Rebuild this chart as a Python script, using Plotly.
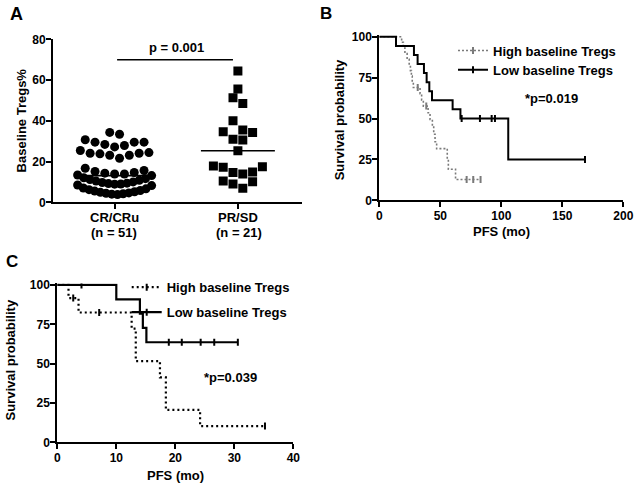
import numpy as np
import plotly.graph_objects as go

FONT = "Liberation Sans, Arial, sans-serif"
W, H = 638, 488

# ---------------- data ----------------
categories = ["CR/CRu", "PR/SD"]
n_labels = ["(n = 51)", "(n = 21)"]
cr_values = [34.3, 33.4,
             30.7, 29.5, 28.4, 27.2, 27.9, 29.5, 29.5,
             25.4, 24.1, 23.8, 23.1, 21.6, 23.1, 24.1, 24.4,
             16.7, 15.1, 14.3, 13.9, 13.9, 14.6, 15.6,
             13.4, 13.1, 12.0, 11.6, 11.2, 10.8, 10.4, 10.0, 9.7, 9.4, 9.2, 9.0, 8.9,
             8.5, 8.2, 7.0, 6.6, 6.2, 5.8, 5.5, 5.2, 4.9, 4.6, 4.4, 4.2, 4.0, 3.8]
pr_values = [64.4, 55.6, 51.3, 48.5, 40.0, 34.6, 35.5, 34.2, 30.9, 30.6, 25.3,
             17.8, 17.2, 14.6, 13.9, 14.9, 17.5, 10.1, 6.9, 9.0, 10.5]
p_text_a = "p = 0.001"

# Panel B (PFS, months)
b_high_times = [18.3, 19.7, 21.0, 22.8, 24.5, 25.5, 26.3, 27.0, 27.9, 33.4, 34.7, 36.1,
                40.0, 41.6, 43.5, 44.6, 45.7, 47.0, 55.7, 56.6, 62.5]
b_high_surv = [96.6, 93.1, 89.7, 86.2, 82.8, 79.3, 75.9, 72.4, 69.0, 65.2, 61.4, 57.6,
               53.5, 49.4, 45.3, 40.4, 35.8, 31.6, 25.3, 19.0, 12.7]
b_high_censor = [31.5, 38.5, 71.6, 77.0, 83.0]
b_low_times = [13.7, 28.4, 31.4, 36.6, 38.8, 41.0, 43.2, 60.1, 66.5, 105.7]
b_low_surv = [94.4, 88.9, 83.3, 77.8, 72.2, 66.7, 61.1, 55.6, 50.0, 25.0]
b_low_censor = [67.5, 82.5, 92.1, 94.8, 168.6]
p_text_b = "*p=0.019"

# Panel C
c_high_times = [1.9, 3.6, 12.6, 13.3, 17.4, 18.4, 24.2]
c_high_surv = [91.7, 82.5, 72.2, 51.6, 41.3, 20.6, 10.3]
c_high_censor = [2.7, 7.1, 35.2]
c_low_times = [10.0, 14.0, 14.5, 15.1]
c_low_surv = [90.9, 81.8, 72.7, 63.6]
c_low_censor = [4.1, 18.9, 21.1, 24.3, 26.6, 30.6]
p_text_c = "*p=0.039"

series_names = ["High baseline Tregs", "Low baseline Tregs"]

# ---------------- layout geometry (pixels) ----------------
def px_x(p):
    return p / W

def px_y(p):
    return 1 - p / H

A_X = [53, 302]
A_Y = [39.3, 202.3]
A_RANGE = [-0.5, 1.52]
B_X = [379.3, 623.3]
B_Y = [35.1, 200.3]
C_X = [57.3, 293.3]
C_Y = [283.4, 442.3]

a_px_per_unit = (A_X[1] - A_X[0]) / (A_RANGE[1] - A_RANGE[0])


def swarm(values, center, step_px=9.8, max_width_px=74, row_thresh=4.8):
    vals = sorted(values)
    rows, cur = [], [vals[0]]
    for v in vals[1:]:
        if v - cur[0] > row_thresh:
            rows.append(cur)
            cur = [v]
        else:
            cur.append(v)
    rows.append(cur)
    xs, ys = [], []
    for row in rows:
        n = len(row)
        step = step_px if n <= 1 else min(step_px, max_width_px / (n - 1))
        for k, v in enumerate(row):
            if n % 2 == 1:
                m = (k + 1) // 2
                s = m if k % 2 == 1 else -m
            else:
                m = k // 2 + 0.5
                s = m if k % 2 == 0 else -m
            xs.append(center + s * step / a_px_per_unit)
            ys.append(v)
    return xs, ys


def km(times, levels, censor):
    end = max(list(censor) + list(times))
    x = [0] + list(times) + [end]
    y = [100] + list(levels) + [levels[-1]]
    all_lv = [100] + list(levels)
    idx = np.searchsorted(np.array(times), np.array(censor), side="right")
    cy = [all_lv[i] for i in idx]
    return x, y, list(censor), cy


fig = go.Figure()

# ---- Panel A ----
cr_x, cr_y = swarm(cr_values, 0)
pr_x, pr_y = swarm(pr_values, 1)
fig.add_trace(go.Scatter(x=cr_x, y=cr_y, mode="markers", xaxis="x", yaxis="y",
                         marker=dict(symbol="circle", size=9, color="black"),
                         showlegend=False, hoverinfo="skip"))
fig.add_trace(go.Scatter(x=pr_x, y=pr_y, mode="markers", xaxis="x", yaxis="y",
                         marker=dict(symbol="square", size=9, color="black"),
                         showlegend=False, hoverinfo="skip"))
for i, vals in enumerate([cr_values, pr_values]):
    med = float(np.median(vals))
    fig.add_trace(go.Scatter(x=[i - 0.3, i + 0.3], y=[med, med], mode="lines",
                             xaxis="x", yaxis="y", line=dict(color="black", width=1.6),
                             showlegend=False, hoverinfo="skip"))

# ---- Panels B, C ----
styles = {
    "bh": dict(color="#7a7a7a", width=1.6, dash="2px,2px"),
    "bl": dict(color="black", width=2),
    "ch": dict(color="black", width=2.2, dash="2px,3px"),
    "cl": dict(color="black", width=2.2),
}
legend_font = dict(family=FONT, size=13, color="black", weight="bold")
# (text-left px, text-centre px) for each legend entry
legend_pos = {"bh": (493, 50), "bl": (493, 69.3), "ch": (166.7, 286.7), "cl": (166.7, 311.7)}
legend_ids = {"bh": "legend", "bl": "legend3", "ch": "legend2", "cl": "legend4"}

for key, (t, s, c), name, ax in [
    ("bh", (b_high_times, b_high_surv, b_high_censor), series_names[0], ("x2", "y2")),
    ("bl", (b_low_times, b_low_surv, b_low_censor), series_names[1], ("x2", "y2")),
    ("ch", (c_high_times, c_high_surv, c_high_censor), series_names[0], ("x3", "y3")),
    ("cl", (c_low_times, c_low_surv, c_low_censor), series_names[1], ("x3", "y3")),
]:
    x, y, cx, cy = km(t, s, c)
    st = styles[key]
    cmark = dict(symbol="line-ns", size=5, line=dict(color=st["color"], width=2))
    fig.add_trace(go.Scatter(x=x, y=y, mode="lines", line_shape="hv",
                             xaxis=ax[0], yaxis=ax[1], line=st,
                             showlegend=False, hoverinfo="skip"))
    fig.add_trace(go.Scatter(x=cx, y=cy, mode="markers", xaxis=ax[0], yaxis=ax[1],
                             marker=cmark, showlegend=False, hoverinfo="skip"))
    # legend entry
    fig.add_trace(go.Scatter(x=[None], y=[None], mode="lines+markers", name=name,
                             xaxis=ax[0], yaxis=ax[1], line=st, marker=cmark,
                             legend=legend_ids[key], showlegend=True))

tickfont = dict(family=FONT, size=12, color="black", weight="bold")
axis_common = dict(showline=True, linecolor="black", linewidth=2, ticks="outside",
                   ticklen=5, tickwidth=2, tickcolor="black", showgrid=False,
                   zeroline=False, tickfont=tickfont, fixedrange=True)
xaxis_common = dict(axis_common, ticklabelstandoff=-2)
yaxis_common = dict(axis_common, ticklabelstandoff=-2)
xaxis_a = dict(axis_common, ticklabelstandoff=-3,
               tickfont=dict(family=FONT, size=13, color="black", weight="bold"))

legends = {}
for key, lid in legend_ids.items():
    tx, ty = legend_pos[key]
    legends[lid] = dict(x=px_x(tx - 40), y=px_y(ty - 14.5), xanchor="left", yanchor="top",
                        bgcolor="rgba(0,0,0,0)", borderwidth=0, font=legend_font)

fig.update_layout(
    width=W, height=H, margin=dict(l=0, r=0, t=0, b=0, autoexpand=False),
    paper_bgcolor="white", plot_bgcolor="white",
    xaxis=dict(domain=[px_x(A_X[0]), px_x(A_X[1])], range=A_RANGE, anchor="y",
               tickvals=[0, 1], ticktext=categories, **xaxis_a),
    yaxis=dict(domain=[px_y(A_Y[1]), px_y(A_Y[0])], range=[0, 80], anchor="x",
               tickvals=[0, 20, 40, 60, 80], **yaxis_common),
    xaxis2=dict(domain=[px_x(B_X[0]), px_x(B_X[1])], range=[0, 200], anchor="y2",
                tickvals=[0, 50, 100, 150, 200], **xaxis_common),
    yaxis2=dict(domain=[px_y(B_Y[1]), px_y(B_Y[0])], range=[0, 101], anchor="x2",
                tickvals=[0, 25, 50, 75, 100], **yaxis_common),
    xaxis3=dict(domain=[px_x(C_X[0]), px_x(C_X[1])], range=[0, 40], anchor="y3",
                tickvals=[0, 10, 20, 30, 40], **xaxis_common),
    yaxis3=dict(domain=[px_y(C_Y[1]), px_y(C_Y[0])], range=[0, 101], anchor="x3",
                tickvals=[0, 25, 50, 75, 100], **yaxis_common),
    showlegend=True,
    **legends,
)

# p-value bracket in panel A
fig.add_shape(type="line", xref="x", yref="y", x0=0.02, x1=0.96, y0=70, y1=70,
              line=dict(color="black", width=1.6))


def ann(text, x, y, size=13, angle=0, xanchor="center"):
    fig.add_annotation(text=text, x=px_x(x), y=px_y(y), xref="paper", yref="paper",
                       showarrow=False, textangle=angle, xanchor=xanchor, yanchor="middle",
                       borderpad=0,
                       font=dict(family=FONT, size=size, color="black", weight="bold"))


ann("A", 16, 14.5, size=18)
ann("B", 326, 13, size=17)
ann("C", 12, 261.5, size=17)
ann("Baseline Tregs%", 21.7, 120.7, angle=-90)
ann(p_text_a, 176.7, 47.5)
ann(n_labels[0], 114.2, 232.2)
ann(n_labels[1], 239, 232.2)
ann("Survival probability", 339.3, 120, angle=-90)
ann("PFS (mo)", 501.7, 231)
ann(p_text_b, 551.7, 98.3)
ann("Survival probability", 9.5, 360, angle=-90)
ann("PFS (mo)", 175, 475.3)
ann(p_text_c, 230, 377.5)

fig.write_html("out.html",
               config={"displayModeBar": False},
               post_script="document.body.style.margin='0px';"
                           "document.documentElement.style.overflow='hidden';")
